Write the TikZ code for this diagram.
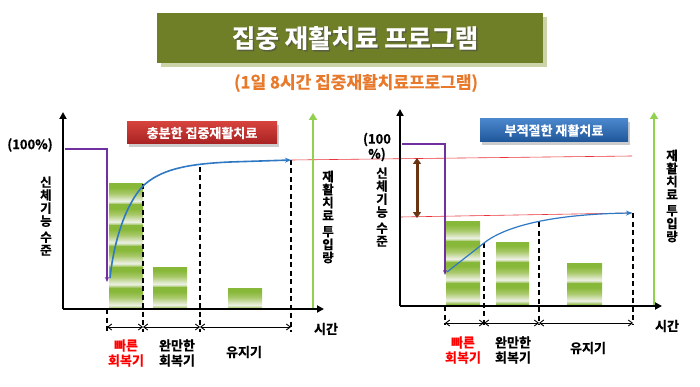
\documentclass[tikz,border=0pt]{standalone}
\usepackage{fontspec}
\newfontfamily\kr{Noto Sans CJK KR}[BoldFont={* Bold},BoldFeatures={FakeBold=0.6}]
\usetikzlibrary{arrows.meta}
\definecolor{olive}{HTML}{6E7F28}
\definecolor{oliveshadow}{HTML}{CDD3A8}
\definecolor{subor}{HTML}{E8782A}
\definecolor{purp}{HTML}{7030A0}
\definecolor{bluecurve}{HTML}{2F78C4}
\definecolor{lgreen}{HTML}{92D050}
\definecolor{gA}{HTML}{88B83A}
\definecolor{gB}{HTML}{A9C96A}
\definecolor{gW}{HTML}{EEF1E6}
\definecolor{brown}{HTML}{6B3410}
\definecolor{redtop}{HTML}{D5423C}
\definecolor{redbot}{HTML}{A82222}
\definecolor{bluetop}{HTML}{4A86CC}
\definecolor{bluebot}{HTML}{1F5699}
\definecolor{redline}{HTML}{E8343A}
\pgfdeclareverticalshading{barshade}{100bp}{color(0bp)=(gA); color(25bp)=(gA); color(34bp)=(gW); color(52bp)=(gB); color(66bp)=(gA); color(75bp)=(gA); color(100bp)=(gA)}
\tikzset{
  axisline/.style={line width=2.6pt, black, -{Triangle[length=7pt,width=7pt]}},
  garrow/.style={line width=2.6pt, lgreen, -{Triangle[length=7pt,width=8pt]}},
  purpline/.style={line width=1.4pt, purp, -{Stealth[length=5pt,width=4pt]}},
  bcurve/.style={line width=1.6pt, bluecurve, -{Stealth[length=6pt,width=5pt]}},
  dashv/.style={line width=1.4pt, black, dash pattern=on 5pt off 3.5pt},
  dblarrow/.style={line width=0.9pt, black, {Straight Barb[length=4pt,width=6pt]}-{Straight Barb[length=4pt,width=6pt]}},
  redthin/.style={line width=0.6pt, redline},
  seg/.style={shading=barshade, draw=none},
  lbl/.style={font=\kr\bfseries\fontsize{13}{15}\selectfont, align=center, inner sep=0pt},
  vtext/.style={font=\kr\bfseries\fontsize{12.5}{13}\selectfont, align=center, inner sep=0pt},
}
\newcommand{\barstack}[4]{% x1 x2 top count
  \foreach \i in {1,...,#4}{
    \pgfmathsetmacro{\yt}{#3+(\i-1)*20.8}
    \pgfmathsetmacro{\yb}{#3+\i*20.8}
    \fill[seg] (#1,\yt) rectangle (#2,\yb);
  }
}
\begin{document}
\begin{tikzpicture}[x=1pt,y=-1pt]
\useasboundingbox (0,0) rectangle (700,387);
\fill[white] (0,0) rectangle (700,387);
% title
\fill[oliveshadow] (161,17) rectangle (547,67);
\fill[olive] (157,13) rectangle (543,63);
\node[font=\kr\bfseries\fontsize{25.5}{28}\selectfont, text=black!70, opacity=0.6] at (356.5,39.5) {집중 재활치료 프로그램};
\node[font=\kr\bfseries\fontsize{25.5}{28}\selectfont, text=white] (title) at (355,38) {집중 재활치료 프로그램};
\node[font=\kr\bfseries\fontsize{17}{19}\selectfont, text=subor] (sub) at (356,83) {(1일 8시간 집중재활치료프로그램)};

% ================= LEFT CHART =================
\coordinate (LO) at (63,309);
\coordinate (LYt) at (63,112);
\coordinate (LXr) at (324,309);
% bars
\barstack{109}{143}{184}{6}
\barstack{153}{187}{267}{2}
\barstack{228}{262}{288}{1}
% red box
\fill[black!20] (129,125) rectangle (279,147);
\node[draw=none, top color=redtop, bottom color=redbot, minimum width=150pt, minimum height=22pt, inner sep=0pt, font=\kr\bfseries\fontsize{13}{15}\selectfont, text=white] (lbox) at (202,133) {충분한 집중재활치료};
% dashed verticals
\coordinate (Ld0t) at (107,309); \coordinate (Ld0b) at (107,332);
\coordinate (Ld1t) at (143,184); \coordinate (Ld1b) at (143,332);
\coordinate (Ld2t) at (200,167); \coordinate (Ld2b) at (200,332);
\coordinate (Ld3t) at (291,160); \coordinate (Ld3b) at (291,332);
\draw[dashv] (Ld0t) -- (Ld0b);
\draw[dashv] (Ld1t) -- (Ld1b);
\draw[dashv] (Ld2t) -- (Ld2b);
\draw[dashv] (Ld3t) -- (Ld3b);
% double arrows
\coordinate (La0) at (107,327); \coordinate (La1) at (143,327);
\coordinate (La2) at (200,327); \coordinate (La3) at (291,327);
\draw[dblarrow] (La0) -- (La1);
\draw[dblarrow] (La1) -- (La2);
\draw[dblarrow] (La2) -- (La3);
% red line across
\coordinate (R1a) at (291,160); \coordinate (R1b) at (632,156);
\draw[redthin] (R1a) -- (R1b);
% purple
\coordinate (Lp0) at (65,149); \coordinate (Lp1) at (107,149); \coordinate (Lp2) at (107,282);
\draw[purpline] (Lp0) -- (Lp1) -- (Lp2);
% blue curve
\coordinate (Lc0) at (110,278);
\coordinate (Lc1) at (143,186);
\draw[bcurve] (Lc0) .. controls (114,240) and (126,204) .. (Lc1) .. controls (160,170) and (185,164) .. (230,162) -- (R1a);
% axes
\draw[axisline] (LO) -- (LYt);
\draw[axisline] (LO) -- (LXr);
\coordinate (LGb) at (313,308); \coordinate (LGt) at (313,113);
\draw[garrow] (LGb) -- (LGt);
% texts
\node[lbl] (l100) at (30,145) {(100\%)};
\node[vtext] (lvy) at (46,216) {신\\체\\기\\능\\[3pt]수\\준};
\node[vtext] (lvr) at (328,217) {재\\활\\치\\료\\[3pt]투\\입\\량};
\node[lbl] (ltime) at (326,329) {시간};
\node[lbl, text=red] (lq) at (126,353) {빠른\\회복기};
\node[lbl] (lm) at (177,353) {완만한\\회복기};
\node[lbl] (lk) at (244,352) {유지기};

% ================= RIGHT CHART =================
\coordinate (RO) at (400,306);
\coordinate (RYt) at (400,109);
\coordinate (RXr) at (662,306);
\barstack{446}{480}{221}{4}
\barstack{496}{529}{242}{3}
\barstack{567}{602}{263}{2}
% blue box
\fill[black!20] (482,122) rectangle (630,145);
\node[draw=none, top color=bluetop, bottom color=bluebot, minimum width=148pt, minimum height=23pt, inner sep=0pt, font=\kr\bfseries\fontsize{13}{15}\selectfont, text=white] (rbox) at (554,130.5) {부적절한 재활치료};
% dashed verticals
\coordinate (Rd0t) at (445,306); \coordinate (Rd0b) at (445,325);
\coordinate (Rd1t) at (484,243); \coordinate (Rd1b) at (484,325);
\coordinate (Rd2t) at (539,222); \coordinate (Rd2b) at (539,325);
\coordinate (Rd3t) at (633,213); \coordinate (Rd3b) at (633,325);
\draw[dashv] (Rd0t) -- (Rd0b);
\draw[dashv] (Rd1t) -- (Rd1b);
\draw[dashv] (Rd2t) -- (Rd2b);
\draw[dashv] (Rd3t) -- (Rd3b);
\coordinate (Ra0) at (445,323); \coordinate (Ra1) at (484,323);
\coordinate (Ra2) at (539,323); \coordinate (Ra3) at (633,323);
\draw[dblarrow] (Ra0) -- (Ra1);
\draw[dblarrow] (Ra1) -- (Ra2);
\draw[dblarrow] (Ra2) -- (Ra3);
% red line lower
\coordinate (R2a) at (400,217); \coordinate (R2b) at (632,213);
\draw[redthin] (R2a) -- (R2b);
% brown double arrow
\coordinate (Bt) at (417,158); \coordinate (Bb) at (417,218);
\draw[brown, line width=3pt, {Triangle[length=6pt,width=8pt]}-{Triangle[length=6pt,width=8pt]}] (Bt) -- (Bb);
% purple
\coordinate (Rp0) at (402,144); \coordinate (Rp1) at (445,144); \coordinate (Rp2) at (445,275);
\draw[purpline] (Rp0) -- (Rp1) -- (Rp2);
% blue curve
\coordinate (Rc0) at (447,272);
\coordinate (Rc1) at (632,213);
\draw[bcurve, line width=1.2pt] (Rc0) -- (Rd1t) .. controls (508,224) and (560,214) .. (Rc1);
% axes
\draw[axisline] (RO) -- (RYt);
\draw[axisline] (RO) -- (RXr);
\coordinate (RGb) at (654,305); \coordinate (RGt) at (654,112);
\draw[garrow] (RGb) -- (RGt);
% texts
\node[lbl] (r100) at (377,147) {(100\\\%)};
\node[vtext] (rvy) at (382,207) {신\\체\\기\\능\\[3pt]수\\준};
\node[vtext] (rvr) at (672,196) {재\\활\\치\\료\\[3pt]투\\입\\량};
\node[lbl] (rtime) at (667,326) {시간};
\node[lbl, text=red] (rq) at (463,350) {빠른\\회복기};
\node[lbl] (rm) at (513,350) {완만한\\회복기};
\node[lbl] (rk) at (588,348) {유지기};
\end{tikzpicture}
\end{document}
